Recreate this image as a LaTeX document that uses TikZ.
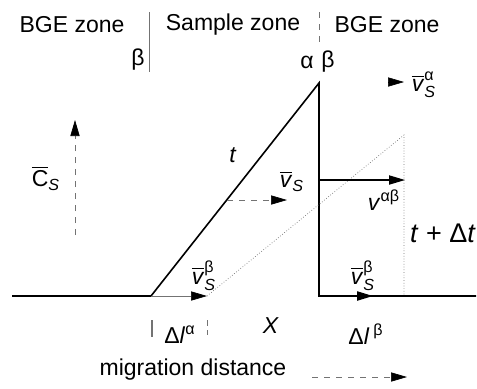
\documentclass[tikz,border=0pt]{standalone}
\usepackage{amsmath}
\usepackage{fontspec}
\setmainfont{Liberation Sans}
\usetikzlibrary{arrows.meta}
\newcommand{\vbr}{\overline{\text{\textit{v}}}}
\newcommand{\vsub}[1]{$\vbr^{\text{#1}}_{\text{\textit{S}}}$}
\begin{document}
\begin{tikzpicture}[x=0.5pt,y=-0.5pt,
  every node/.style={inner sep=0pt, font=\fontsize{11.5}{13}\selectfont},
  thickline/.style={line width=0.8pt},
  thingray/.style={line width=0.35pt, draw=black!55},
  tip/.style={-{Triangle[length=8pt,width=4.6pt,color=black,fill=black]}},
]
\useasboundingbox (0,0) rectangle (477,388);
% main profile
\coordinate (L0) at (12,296);
\coordinate (A) at (151,296);
\coordinate (P) at (319,83);
\coordinate (Q) at (319,296);
\coordinate (R) at (476,296);
\coordinate (B) at (207,296);
\coordinate (D) at (404,135);
\coordinate (E) at (404,296);
\draw[thickline] (L0) -- (A) -- (P) -- (Q) -- (R);
\draw[thingray, densely dotted] (B) -- (D) -- (E);
% arrows
\draw[thingray, tip] (A) -- (B);
\coordinate (V1) at (319,180);
\coordinate (V2) at (405,180);
\draw[line width=0.6pt, tip] (V1) -- (V2);
\coordinate (W) at (373,296);
\draw[thickline, tip] (Q) -- (W);
\coordinate (T1) at (227,200);
\coordinate (T2) at (287,200);
\draw[thingray, dashed, tip] (T1) -- (T2);
\coordinate (C1) at (75,235);
\coordinate (C2) at (75,120);
\draw[thingray, dashed, tip] (C1) -- (C2);
\coordinate (U1) at (392,82);
\coordinate (U2) at (404,82);
\draw[line width=0.3pt, tip] (U1) -- (U2);
\coordinate (M1) at (312,377);
\coordinate (M2) at (407,377);
\draw[thingray, dashed, tip] (M1) -- (M2);
% zone separators and ticks
\coordinate (Z1) at (149,12); \coordinate (Z2) at (149,72);
\draw[thingray] (Z1) -- (Z2);
\coordinate (Z3) at (319,12); \coordinate (Z4) at (319,43);
\draw[thingray, dashed] (Z3) -- (Z4);
\coordinate (K1) at (152,320); \coordinate (K2) at (152,337);
\draw[thingray, line width=0.6pt] (K1) -- (K2);
\coordinate (K3) at (207,320); \coordinate (K4) at (207,335);
\draw[thingray, densely dashed] (K3) -- (K4);
% labels
\node (z1) at (72,25) {BGE zone};
\node (z2) at (233,25) {Sample zone};
\node (z3) at (387,25) {BGE zone};
\node (b1) at (138,60) {β};
\node (a2) at (307,62) {α};
\node (b2) at (328,62) {β};
\node (lva) at (424,85) {\vsub{α}};
\node (lcs) at (46,178) {$\overline{\text{C}}_{\text{\textit{S}}}$};
\node (lt) at (233,155) {\textit{t}};
\node (lvs) at (292,181) {$\vbr_{\text{\textit{S}}}$};
\node (lvab) at (384,200) {\textit{v}\textsuperscript{αβ}};
\node[font=\fontsize{13.5}{15}\selectfont] (ltdt) at (443,233) {\textit{t} + Δ\textit{t}};
\node (lvb1) at (204,276) {\vsub{β}};
\node (lvb2) at (363,276) {\vsub{β}};
\node (dla) at (180,335) {Δ\textit{l}\textsuperscript{α}};
\node (lx) at (271,326) {\textit{X}};
\node (dlb) at (366,334) {Δ\textit{l}\,\textsuperscript{β}};
\node (mig) at (193,370) {migration distance};
\end{tikzpicture}
\end{document}
